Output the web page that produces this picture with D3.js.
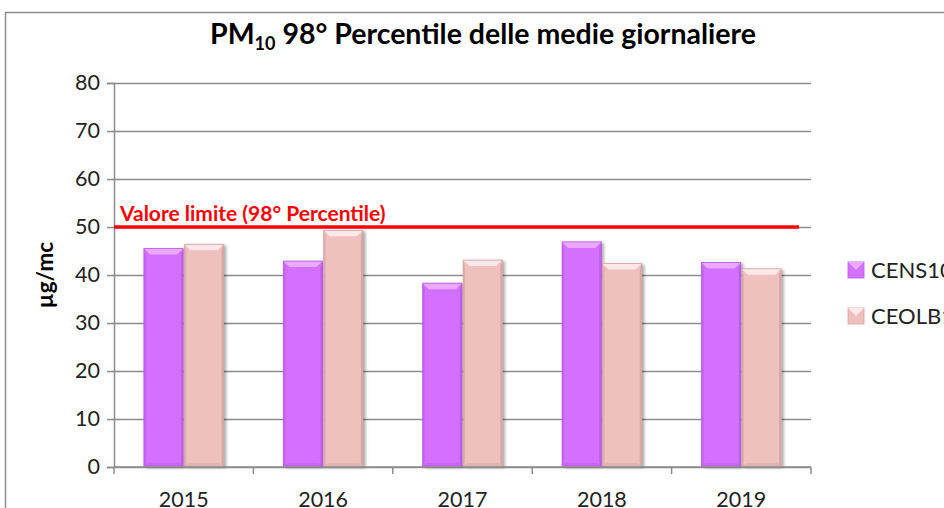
<!DOCTYPE html>
<html>
<head>
<meta charset="utf-8">
<script src="https://cdn.jsdelivr.net/npm/d3@7"></script>
<style>
  body { margin: 0; background: #fff; }
  svg { display: block; font-family: Lato, "Open Sans", sans-serif; }
</style>
</head>
<body>
<svg id="chart" width="944" height="508"></svg>
<script>
// data
var years   = ["2015", "2016", "2017", "2018", "2019"];
var series  = ["CENS10", "CEOLB1"];
var cens10  = [45.5, 42.9, 38.3, 46.9, 42.6];
var ceolb1  = [46.4, 49.3, 43.1, 42.4, 41.3];
var yTicks  = [0, 10, 20, 30, 40, 50, 60, 70, 80];
var limitValue = 50;
var limitLabel = "Valore limite (98° Percentile)";

// colours: main, top bevel, dark edge
var colors = {
  CENS10: { main: "#d470ff", light: "#eaa8ff", dark: "#b75ae6" },
  CEOLB1: { main: "#f0c0bf", light: "#fce8e8", dark: "#d3a3a2" }
};

var svg = d3.select("#chart");

var plotLeft = 114, plotRight = 811, plotTop = 83, plotBottom = 467;

var x0 = d3.scaleBand().domain(years).range([plotLeft, plotRight]).padding(0);
var x1 = d3.scaleBand().domain(series).range([0, x0.bandwidth()])
  .paddingOuter(0.74).paddingInner(0.03);
var y = d3.scaleLinear().domain([0, 80]).range([plotBottom, plotTop]);

var defs = svg.append("defs");
var f = defs.append("filter").attr("id", "shadow")
  .attr("x", "-20%").attr("y", "-10%").attr("width", "150%").attr("height", "130%");
f.append("feDropShadow").attr("dx", 2.5).attr("dy", 1)
  .attr("stdDeviation", 1.5).attr("flood-color", "#000").attr("flood-opacity", 0.35);

// outer chart border
svg.append("rect")
  .attr("x", 5.5).attr("y", 12.5).attr("width", 1000).attr("height", 600)
  .attr("fill", "none").attr("stroke", "#8c8c8c").attr("stroke-width", 1.5);

// title
var title = svg.append("text")
  .attr("x", 483).attr("y", 44)
  .attr("text-anchor", "middle")
  .attr("font-size", 28.5).attr("font-weight", "bold").attr("fill", "#000");
title.append("tspan").text("PM");
title.append("tspan").attr("font-size", 18).attr("dy", 6).text("10");
title.append("tspan").attr("dy", -6).text(" 98° Percentile delle medie giornaliere");

// y gridlines
svg.append("g")
  .attr("transform", "translate(" + plotLeft + ",0)")
  .call(d3.axisLeft(y).tickValues(yTicks).tickSize(-(plotRight - plotLeft)).tickFormat(""))
  .call(function (g) {
    g.select(".domain").remove();
    g.selectAll("line").attr("stroke", "#8c8c8c").attr("stroke-width", 1.5);
  });

// y axis with outer ticks
svg.append("g")
  .attr("transform", "translate(" + plotLeft + ",0)")
  .call(d3.axisLeft(y).tickValues(yTicks).tickSize(7).tickPadding(7))
  .call(function (g) {
    g.select(".domain").attr("stroke", "#8c8c8c").attr("stroke-width", 1.5);
    g.selectAll("line").attr("stroke", "#8c8c8c").attr("stroke-width", 1.5);
    g.selectAll("text").attr("font-size", 21.5).attr("fill", "#222")
      .attr("font-family", "Lato, sans-serif");
  });

// y label
svg.append("text")
  .attr("transform", "translate(53," + ((plotTop + plotBottom) / 2) + ") rotate(-90)")
  .attr("text-anchor", "middle")
  .attr("font-size", 22.5).attr("font-weight", "bold").attr("fill", "#000")
  .text("µg/mc");

// bars
function drawBar(g, bx, by, w, h, c) {
  var bev = Math.min(6, h / 2);
  g.append("rect").attr("x", bx).attr("y", by).attr("width", w).attr("height", h)
    .attr("fill", c.main).attr("filter", "url(#shadow)");
  // top bevel
  g.append("path")
    .attr("d", "M" + bx + "," + by + "H" + (bx + w) + "L" + (bx + w - bev) + "," + (by + bev) +
      "H" + (bx + bev) + "Z")
    .attr("fill", c.light);
  // side edges
  g.append("path")
    .attr("d", "M" + bx + "," + by + "L" + (bx + 2) + "," + (by + bev) + "V" + (by + h - 2) +
      "L" + bx + "," + (by + h) + "Z")
    .attr("fill", c.dark).attr("opacity", 0.6);
  g.append("path")
    .attr("d", "M" + (bx + w) + "," + by + "L" + (bx + w - 2) + "," + (by + bev) + "V" + (by + h - 2) +
      "L" + (bx + w) + "," + (by + h) + "Z")
    .attr("fill", c.dark).attr("opacity", 0.8);
  // bottom bevel
  g.append("path")
    .attr("d", "M" + bx + "," + (by + h) + "H" + (bx + w) + "L" + (bx + w - 4) + "," + (by + h - 4) +
      "H" + (bx + 4) + "Z")
    .attr("fill", c.dark).attr("opacity", 0.45);
  g.append("rect").attr("x", bx).attr("y", by).attr("width", w).attr("height", h)
    .attr("fill", "none").attr("stroke", c.dark).attr("stroke-width", 0.8);
}

var values = { CENS10: cens10, CEOLB1: ceolb1 };
var barsG = svg.append("g");
years.forEach(function (yr, i) {
  series.forEach(function (s) {
    var v = values[s][i];
    drawBar(barsG, x0(yr) + x1(s), y(v), x1.bandwidth(), y(0) - y(v), colors[s]);
  });
});

// x axis
svg.append("g")
  .attr("transform", "translate(0," + plotBottom + ")")
  .call(d3.axisBottom(x0).tickSize(0).tickPadding(25))
  .call(function (g) {
    g.select(".domain").attr("stroke", "#8c8c8c").attr("stroke-width", 1.5)
      .attr("d", "M" + plotLeft + ",0H" + plotRight);
    g.selectAll("text").attr("font-size", 21.5).attr("fill", "#222")
      .attr("font-family", "Lato, sans-serif");
  });

// category boundary ticks
var bounds = years.map(function (d) { return x0(d); }).concat([plotRight]);
svg.append("g").selectAll("line")
  .data(bounds)
  .join("line")
  .attr("x1", function (d) { return d; })
  .attr("x2", function (d) { return d; })
  .attr("y1", plotBottom).attr("y2", plotBottom + 7)
  .attr("stroke", "#8c8c8c").attr("stroke-width", 1.5);

// limit line
svg.append("line")
  .attr("x1", plotLeft).attr("x2", 799)
  .attr("y1", y(limitValue)).attr("y2", y(limitValue))
  .attr("stroke", "#ff0000").attr("stroke-width", 3.5);

svg.append("text")
  .attr("x", 120).attr("y", y(limitValue) - 6)
  .attr("font-size", 21).attr("font-weight", "bold").attr("fill", "#ff0000")
  .text(limitLabel);

// legend
var legend = svg.append("g");
series.forEach(function (s, i) {
  var ly = 270 + i * 46;
  var c = colors[s];
  legend.append("rect").attr("x", 848).attr("y", ly - 8).attr("width", 16).attr("height", 16)
    .attr("fill", c.main).attr("stroke", c.dark).attr("stroke-width", 0.8);
  legend.append("path")
    .attr("d", "M848," + (ly - 8) + "H864L856," + (ly) + "Z")
    .attr("fill", c.light);
  legend.append("text")
    .attr("x", 871).attr("y", ly).attr("dy", "0.36em")
    .attr("font-size", 22).attr("fill", "#222")
    .text(s);
});
</script>
</body>
</html>
